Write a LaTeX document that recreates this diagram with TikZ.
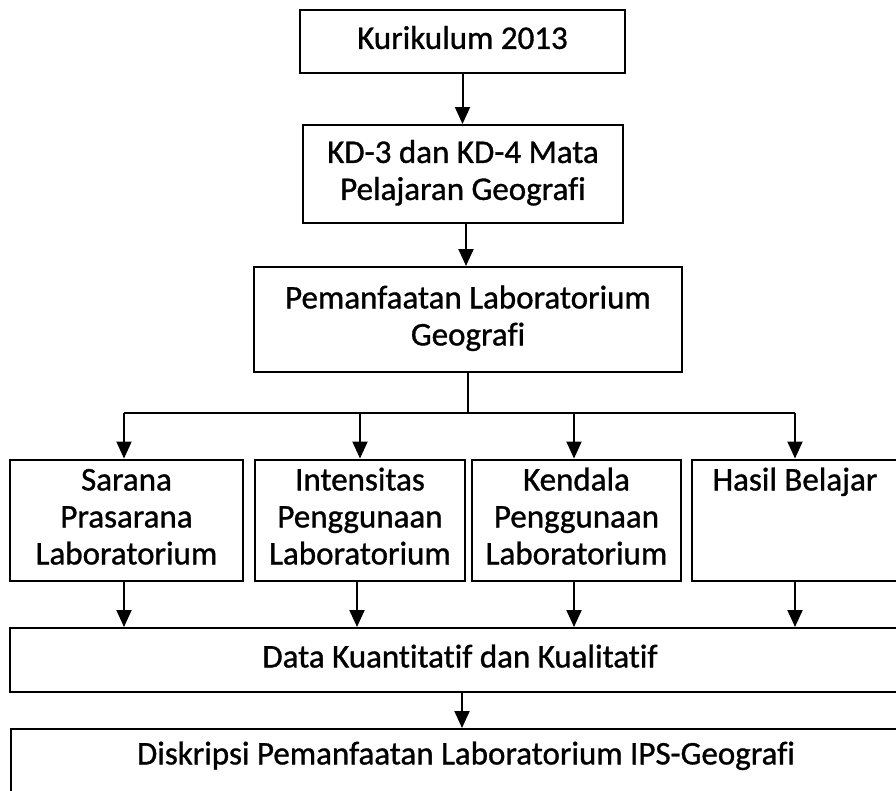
\documentclass[tikz,border=0pt]{standalone}
\usepackage{fontspec}
\setmainfont{Carlito}[Ligatures=NoCommon, FakeBold=1]
\usetikzlibrary{arrows.meta}
\begin{document}
\begin{tikzpicture}[x=1pt,y=-1pt,
  box/.style={draw=black, line width=2pt, align=center, inner sep=0pt,
    font=\fontsize{33}{37}\selectfont},
  lbl/.style={align=center, inner sep=0pt, font=\fontsize{33}{37}\selectfont},
  arr/.style={line width=2pt, -{Triangle[width=15pt,length=17pt]}},
  ln/.style={line width=2pt}]
\useasboundingbox (0,0) rectangle (896,790);
\clip (0,0) rectangle (896,790);
\fill[white] (0,0) rectangle (896,790);

\node[box, minimum width=325, minimum height=63] (kur) at (462.5,41.5) {\strut Kurikulum 2013};
\node[box, minimum width=320, minimum height=98] (kd) at (463,174) {\strut KD-3 dan KD-4 Mata\\Pelajaran Geografi\strut};
\node[box, minimum width=428, minimum height=105] (pem) at (468,319.5) {\strut Pemanfaatan Laboratorium\\Geografi\strut};

\node[box, minimum width=233, minimum height=121] (sar) at (126.5,520) {\strut Sarana\\Prasarana\\Laboratorium\strut};
\node[box, minimum width=210, minimum height=121] (int) at (360,520) {\strut Intensitas\\Penggunaan\\Laboratorium\strut};
\node[box, minimum width=209, minimum height=121] (ken) at (576.5,520) {\strut Kendala\\Penggunaan\\Laboratorium\strut};
\node[box, minimum width=206, minimum height=121] (has) at (795,520) {\strut Hasil Belajar\\\strut\\\strut};

\node[box, minimum width=900, minimum height=64] (dat) at (460,660) {\strut Data Kuantitatif dan Kualitatif};
\node[draw=black, line width=2pt, minimum width=910, minimum height=90, anchor=north, inner sep=0pt] (dis) at (466,728) {};
\node[lbl] (distext) at (466,757) {\strut Diskripsi Pemanfaatan Laboratorium IPS-Geografi};

\coordinate (br) at (468,413);
\coordinate (bl) at (124,413);
\coordinate (bi) at (360,413);
\coordinate (bk) at (574,413);
\coordinate (bh) at (795,413);

\draw[arr] (kur.south) -- (kur.south |- kd.north);
\draw[arr] (kd.south -| 466,0) -- (pem.north -| 466,0);
\draw[ln] (pem.south) -- (br);
\draw[ln] (bl) -- (bh);
\draw[arr] (bl) -- (bl |- sar.north);
\draw[arr] (bi) -- (bi |- int.north);
\draw[arr] (bk) -- (bk |- ken.north);
\draw[arr] (bh) -- (bh |- has.north);

\draw[arr] (sar.south -| bl) -- (dat.north -| bl);
\draw[arr] (int.south -| 357,0) -- (dat.north -| 357,0);
\draw[arr] (ken.south -| bk) -- (dat.north -| bk);
\draw[arr] (has.south -| bh) -- (dat.north -| bh);
\draw[arr] (dat.south -| 462,0) -- (dis.north -| 462,0);
\end{tikzpicture}
\end{document}
